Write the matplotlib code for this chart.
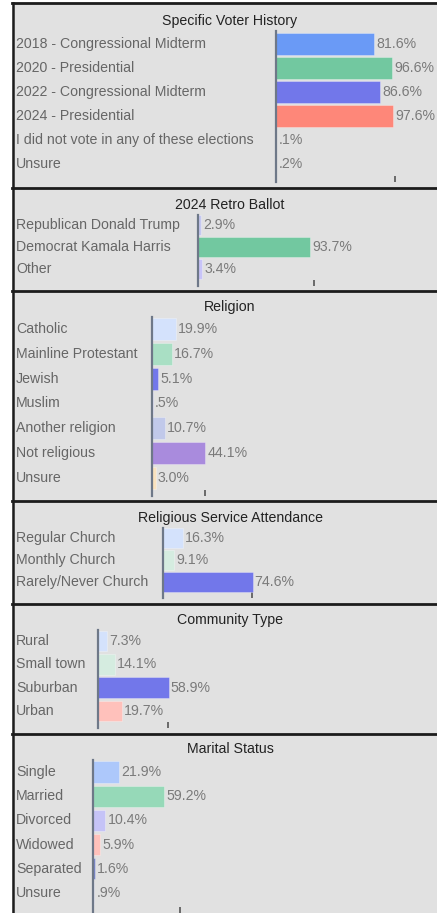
import matplotlib
matplotlib.use("Agg")
import matplotlib.pyplot as plt
from matplotlib.lines import Line2D
from matplotlib.patches import Rectangle
from matplotlib.transforms import blended_transform_factory

plt.rcParams["font.family"] = ["Liberation Sans", "DejaVu Sans"]

# --- data ---------------------------------------------------------------
voter_title = "Specific Voter History"
voter_labels = ["2018 - Congressional Midterm", "2020 - Presidential",
                "2022 - Congressional Midterm", "2024 - Presidential",
                "I did not vote in any of these elections", "Unsure"]
voter_values = [81.6, 96.6, 86.6, 97.6, 0.1, 0.2]
voter_colors = ["#6a9af6", "#72c8a0", "#7277ea", "#fe8779", "#c4c4f5", "#c4c4f5"]

ballot_title = "2024 Retro Ballot"
ballot_labels = ["Republican Donald Trump", "Democrat Kamala Harris", "Other"]
ballot_values = [2.9, 93.7, 3.4]
ballot_colors = ["#c5c8f0", "#72c8a0", "#c8c4f8"]

religion_title = "Religion"
religion_labels = ["Catholic", "Mainline Protestant", "Jewish", "Muslim",
                   "Another religion", "Not religious", "Unsure"]
religion_values = [19.9, 16.7, 5.1, 0.5, 10.7, 44.1, 3.0]
religion_colors = ["#d4e2fc", "#a9dfc4", "#7277ea", "#c4c4f5",
                   "#c1c9ea", "#a98bdd", "#f9e2bf"]

attend_title = "Religious Service Attendance"
attend_labels = ["Regular Church", "Monthly Church", "Rarely/Never Church"]
attend_values = [16.3, 9.1, 74.6]
attend_colors = ["#d4e2fc", "#d5ece0", "#7277ea"]

community_title = "Community Type"
community_labels = ["Rural", "Small town", "Suburban", "Urban"]
community_values = [7.3, 14.1, 58.9, 19.7]
community_colors = ["#d4e2fc", "#d5ece0", "#7277ea", "#ffc1bb"]

marital_title = "Marital Status"
marital_labels = ["Single", "Married", "Divorced", "Widowed", "Separated", "Unsure"]
marital_values = [21.9, 59.2, 10.4, 5.9, 1.6, 0.9]
marital_colors = ["#adc8fb", "#96d9b8", "#c5c3f7", "#ffc1bb", "#7a86c8", "#c5c8e0"]

# single tick value shown on each panel's x axis
tick_values = [99, 97, 44, 74, 58, 72.5]

# --- layout (pixels) ------------------------------------------------------
W, H = 437, 913
PX_PER_PCT = 1.2
LABEL_X = 16
TITLE_X = 230
BG = "#e1e1e1"
BORDER = "#1c1c1c"
FS = 10.2

# top border, title y, axis x, axis top, axis bottom, first row y, row pitch
LAYOUT = [
    (3, 21, 276, 31, 182, 44, 24.0),
    (188, 205, 198, 215, 286, 225, 22.0),
    (291, 307, 152, 317, 496, 329, 24.8),
    (501, 518, 163, 528, 598, 538, 22.0),
    (604, 620, 98, 630, 728, 641, 23.3),
    (734, 749, 93, 760, 913, 772, 24.2),
]

panels = [
    (voter_title, voter_labels, voter_values, voter_colors),
    (ballot_title, ballot_labels, ballot_values, ballot_colors),
    (religion_title, religion_labels, religion_values, religion_colors),
    (attend_title, attend_labels, attend_values, attend_colors),
    (community_title, community_labels, community_values, community_colors),
    (marital_title, marital_labels, marital_values, marital_colors),
]


def fmt_pct(v):
    s = f"{v:.1f}%"
    return s[1:] if s.startswith("0") else s


def fy(y):
    return 1 - y / H


fig = plt.figure(figsize=(W / 100, H / 100), dpi=100)
fig.patch.set_facecolor("white")
fig.add_artist(Rectangle((12 / W, 0), 1, fy(3), transform=fig.transFigure,
                         facecolor=BG, edgecolor="none", zorder=0))

for (title, labels, values, colors), tick, lay in zip(panels, tick_values, LAYOUT):
    top, title_y, ax_x, ax_top, ax_bot, row0, pitch = lay
    ax = fig.add_axes([ax_x / W, fy(ax_bot), (W - ax_x) / W, (ax_bot - ax_top) / H])
    ax.set_facecolor("none")
    ax.set_xlim(0, (W - ax_x) / PX_PER_PCT)
    ax.set_ylim((ax_bot - row0) / pitch, (ax_top - row0) / pitch)

    rows = list(range(len(values)))
    ax.barh(rows, values, height=0.88, color=colors,
            edgecolor=(1, 1, 1, 0.35), linewidth=0.6, zorder=2)

    trans = blended_transform_factory(fig.transFigure, ax.transData)
    for i, (lab, v) in enumerate(zip(labels, values)):
        ax.annotate(fmt_pct(v), (v, i), xytext=(1.6, 0), textcoords="offset points",
                    va="center", ha="left", color="#7a7a7a", fontsize=FS,
                    annotation_clip=False)
        ax.text(LABEL_X / W, i, lab, transform=trans, ha="left", va="center",
                color="#666666", fontsize=FS, clip_on=False)

    for side in ["top", "right", "bottom"]:
        ax.spines[side].set_visible(False)
    ax.spines["left"].set_color("#6e7888")
    ax.spines["left"].set_linewidth(1.6)
    ax.set_yticks([])
    ax.set_xticks([tick])
    ax.tick_params(axis="x", direction="in", length=4, width=1.2,
                   color="#555555", labelbottom=False)

    fig.text(TITLE_X / W, fy(title_y), title, ha="center", va="center",
             color="#222222", fontsize=FS)

    fig.add_artist(Line2D([12 / W, 1], [fy(top), fy(top)], transform=fig.transFigure,
                          color=BORDER, linewidth=2.0, zorder=5))

fig.add_artist(Line2D([12.5 / W, 12.5 / W], [0, fy(3)], transform=fig.transFigure,
                      color=BORDER, linewidth=1.8, zorder=5))

fig.savefig("out.png", dpi=100)
plt.close(fig)
